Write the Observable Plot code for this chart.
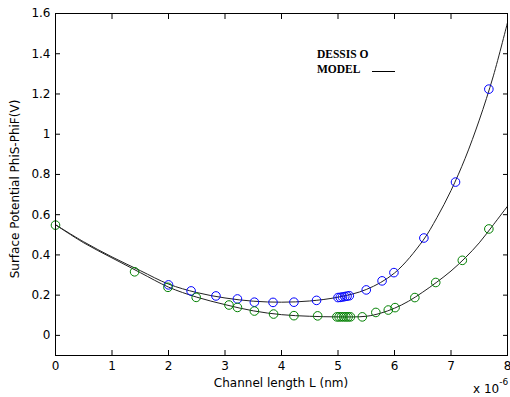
<!DOCTYPE html>
<html>
<head>
<meta charset="utf-8">
<script src="https://cdn.jsdelivr.net/npm/d3@7"></script>
<script src="https://cdn.jsdelivr.net/npm/@observablehq/plot@0.6"></script>
<style>
  html, body { margin: 0; padding: 0; background: #fff; }
  #chart { width: 510px; height: 397px; }
</style>
</head>
<body>
<div id="chart"></div>
<script>
// Axis ticks
const xTicks = [0, 1, 2, 3, 4, 5, 6, 7, 8];
const yTicks = [0, 0.2, 0.4, 0.6, 0.8, 1.0, 1.2, 1.4, 1.6];

// Simulated surface potential (circles), channel position in units of 1e-6
const dessisUpperX = [2.0, 2.40, 2.84, 3.22, 3.52, 3.85, 4.22, 4.62, 5.0, 5.04, 5.08, 5.12, 5.16, 5.2, 5.5, 5.78, 5.99, 6.52, 7.08, 7.67];
const dessisUpperY = [0.251, 0.221, 0.196, 0.181, 0.165, 0.164, 0.165, 0.174, 0.188, 0.189, 0.191, 0.193, 0.195, 0.197, 0.226, 0.271, 0.312, 0.484, 0.762, 1.224];

const dessisLowerX = [0, 1.40, 1.99, 2.49, 3.07, 3.22, 3.52, 3.86, 4.22, 4.64, 4.98, 5.02, 5.06, 5.10, 5.14, 5.18, 5.22, 5.43, 5.67, 5.89, 6.01, 6.36, 6.73, 7.20, 7.67];
const dessisLowerY = [0.548, 0.316, 0.239, 0.189, 0.151, 0.139, 0.121, 0.106, 0.098, 0.097, 0.092, 0.092, 0.092, 0.092, 0.092, 0.092, 0.092, 0.092, 0.114, 0.126, 0.138, 0.188, 0.263, 0.373, 0.529];

// Analytical model (solid lines)
const modelUpperX = [0, 0.5, 1, 1.5, 2, 2.5, 3, 3.5, 4, 4.5, 5, 5.5, 6, 6.5, 6.75, 7, 7.25, 7.5, 7.75, 8];
const modelUpperY = [0.55, 0.465, 0.39, 0.322, 0.255, 0.213, 0.186, 0.17, 0.165, 0.171, 0.19, 0.228, 0.31, 0.47, 0.585, 0.72, 0.88, 1.07, 1.29, 1.555];

const modelLowerX = [0, 0.5, 1, 1.5, 2, 2.5, 3, 3.5, 4, 4.5, 5, 5.5, 5.75, 6, 6.25, 6.5, 6.75, 7, 7.25, 7.5, 7.75, 8];
const modelLowerY = [0.55, 0.46, 0.385, 0.312, 0.24, 0.19, 0.153, 0.122, 0.103, 0.095, 0.092, 0.095, 0.11, 0.135, 0.17, 0.215, 0.265, 0.32, 0.385, 0.46, 0.55, 0.642];

const toPoints = (xs, ys) => xs.map((x, i) => ({x, y: ys[i]}));

const font = "'DejaVu Sans', sans-serif";

const chart = Plot.plot({
  width: 510,
  height: 397,
  marginLeft: 55,
  marginRight: 3,
  marginTop: 13,
  marginBottom: 42,
  style: {fontFamily: font, fontSize: "12px", color: "#000", background: "#fff", overflow: "visible"},
  x: {domain: [0, 8], label: null},
  y: {domain: [-0.1, 1.6], label: null},
  marks: [
    Plot.line(toPoints(modelUpperX, modelUpperY), {x: "x", y: "y", stroke: "#222", strokeWidth: 1, curve: "catmull-rom"}),
    Plot.line(toPoints(modelLowerX, modelLowerY), {x: "x", y: "y", stroke: "#222", strokeWidth: 1, curve: "catmull-rom"}),
    Plot.dot(toPoints(dessisUpperX, dessisUpperY), {x: "x", y: "y", r: 4.3, stroke: "#0000ff", strokeWidth: 1, fill: "none"}),
    Plot.dot(toPoints(dessisLowerX, dessisLowerY), {x: "x", y: "y", r: 4.3, stroke: "#008000", strokeWidth: 1, fill: "none"}),
    Plot.frame({stroke: "#000", strokeWidth: 1}),
    Plot.axisX(xTicks, {anchor: "bottom", tickSize: -5, tickPadding: 11, label: null}),
    Plot.axisX(xTicks, {anchor: "top", tickSize: -5, tickFormat: () => "", label: null}),
    Plot.axisY(yTicks, {anchor: "left", tickSize: -5, tickPadding: 10, label: null, tickFormat: d => d === 0 ? "0" : d3.format(".1f")(d).replace(/\.0$/, "")}),
    Plot.axisY(yTicks, {anchor: "right", tickSize: -5, tickFormat: () => "", label: null})
  ]
});

document.getElementById("chart").appendChild(chart);

// Axis titles, exponent and legend
const svg = d3.select(chart);

svg.append("text")
  .attr("x", 281).attr("y", 387)
  .attr("text-anchor", "middle")
  .attr("font-family", font).attr("font-size", 12).attr("fill", "#000")
  .text("Channel length L (nm)");

svg.append("text")
  .attr("transform", "translate(19,189) rotate(-90)")
  .attr("text-anchor", "middle")
  .attr("font-family", font).attr("font-size", 12).attr("fill", "#000")
  .text("Surface Potential PhiS-PhiF(V)");

const expo = svg.append("text")
  .attr("x", 473).attr("y", 393)
  .attr("text-anchor", "start")
  .attr("font-family", font).attr("font-size", 12).attr("fill", "#000");
expo.append("tspan").text("x 10");
expo.append("tspan").attr("dy", -8).attr("font-size", 9).text("-6");

const legendFont = "'Liberation Serif', 'Times New Roman', serif";
svg.append("text")
  .attr("x", 317).attr("y", 57.5)
  .attr("text-anchor", "start")
  .attr("font-family", legendFont).attr("font-weight", "bold").attr("font-size", 11.5).attr("fill", "#000")
  .text("DESSIS O");
svg.append("text")
  .attr("x", 317).attr("y", 73)
  .attr("text-anchor", "start")
  .attr("font-family", legendFont).attr("font-weight", "bold").attr("font-size", 11.5).attr("fill", "#000")
  .text("MODEL");
svg.append("line")
  .attr("x1", 372).attr("x2", 395).attr("y1", 71.5).attr("y2", 71.5)
  .attr("stroke", "#000").attr("stroke-width", 1);
</script>
</body>
</html>
